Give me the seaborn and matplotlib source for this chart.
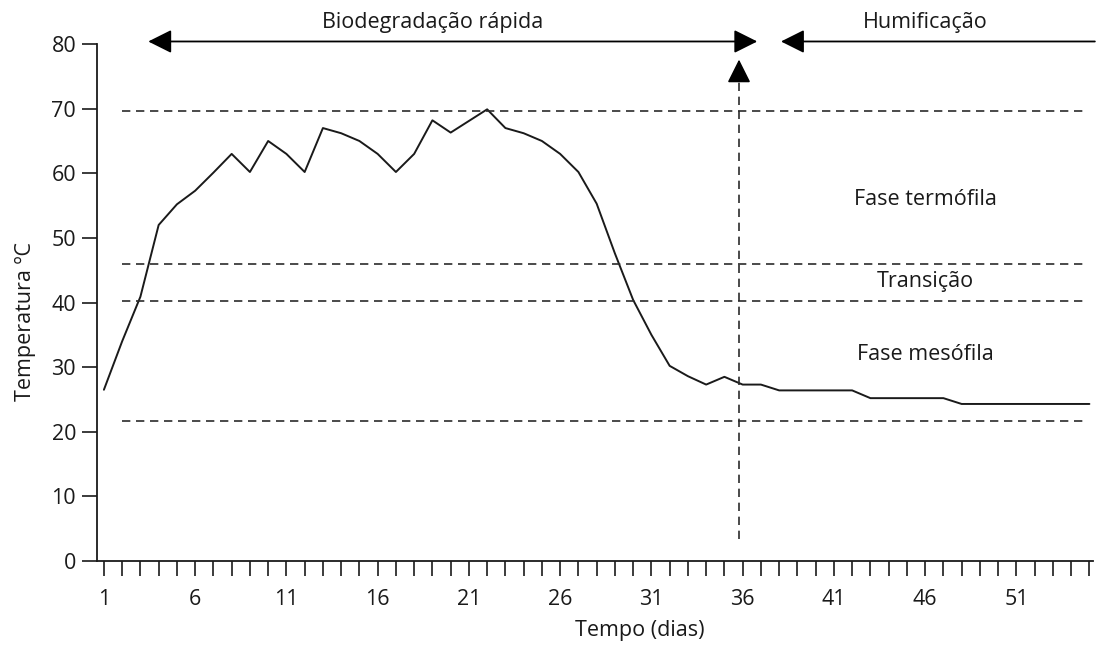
import matplotlib
matplotlib.use("Agg")
import matplotlib.pyplot as plt
import seaborn as sns
import pandas as pd
import numpy as np

# ---- data ----
days = list(range(1, 56))
temps = [26.5, 34.0, 40.9, 52.0, 55.2, 57.3, 60.1, 63.0, 60.2, 65.0,
         63.0, 60.2, 67.0, 66.2, 65.0, 63.0, 60.2, 63.0, 68.2, 66.3,
         68.1, 69.9, 67.0, 66.2, 65.0, 63.0, 60.2, 55.3, 47.6, 40.4,
         35.0, 30.2, 28.6, 27.3, 28.5, 27.3, 27.3, 26.4, 26.4, 26.4,
         26.4, 26.4, 25.2, 25.2, 25.2, 25.2, 25.2, 24.3, 24.3, 24.3,
         24.3, 24.3, 24.3, 24.3, 24.3]
phase_lines = [69.6, 45.9, 40.3, 21.6]
phase_labels = ["Fase termófila", "Transição", "Fase mesófila"]
phase_label_y = [56.0, 43.3, 32.0]
xtick_labels = [1, 6, 11, 16, 21, 26, 31, 36, 41, 46, 51]
yticks = [0, 10, 20, 30, 40, 50, 60, 70, 80]
stage_labels = ["Biodegradação rápida", "Humificação"]

df = pd.DataFrame({"Tempo": days[:len(temps)], "Temperatura": temps})

sns.set_style("ticks")
plt.rcParams["font.family"] = ["Open Sans", "DejaVu Sans"]

FS = 15.5
fig = plt.figure(figsize=(10.97, 6.48), dpi=100)
ax = fig.add_axes([0.0884, 0.1343, 0.9080, 0.7977])

ink = "#1a1a1a"
sns.lineplot(data=df, x="Tempo", y="Temperatura", ax=ax, color=ink,
             linewidth=1.4)

ax.set_xlim(0.62, 55.2)
ax.set_ylim(0, 80)

# dashed phase boundaries
dash = (0, (5.0, 3.4))
for yv in phase_lines:
    ax.plot([2.0, 54.8], [yv, yv], color="#2b2b2b", linewidth=1.2,
            linestyle=dash)

for lab, yv in zip(phase_labels, phase_label_y):
    ax.text(46.0, yv, lab, ha="center", va="center", fontsize=FS, color=ink)

# vertical dashed arrow
xv = 35.8
ax.plot([xv, xv], [3.4, 76.0], color="#2b2b2b", linewidth=1.2, linestyle=dash,
        clip_on=False)
ax.annotate("", xy=(xv, 77.6), xytext=(xv, 75.0),
            arrowprops=dict(arrowstyle="-|>,head_length=0.8,head_width=0.4",
                            color="black", lw=1.2, mutation_scale=18,
                            shrinkA=0, shrinkB=0),
            annotation_clip=False)

# top stage arrows
ya = 80.4
ax.annotate("", xy=(3.43, ya), xytext=(36.8, ya),
            arrowprops=dict(arrowstyle="<|-|>,head_length=0.8,head_width=0.4",
                            color="black", lw=1.3, mutation_scale=18,
                            shrinkA=0, shrinkB=0),
            annotation_clip=False)
ax.annotate("", xy=(38.1, ya), xytext=(55.3, ya),
            arrowprops=dict(arrowstyle="-|>,head_length=0.8,head_width=0.4",
                            color="black", lw=1.3, mutation_scale=18,
                            shrinkA=0, shrinkB=0),
            annotation_clip=False)
ax.text(19.0, 83.4, stage_labels[0], ha="center", va="center", fontsize=FS,
        color=ink, clip_on=False)
ax.text(46.0, 83.4, stage_labels[1], ha="center", va="center", fontsize=FS,
        color=ink, clip_on=False)

# ticks
ax.set_xticks(days)
ax.set_xticklabels([str(d) if d in xtick_labels else "" for d in days])
ax.set_yticks(yticks)
ax.tick_params(axis="both", direction="out", length=11, width=1.2,
               colors=ink, labelsize=FS, pad=4)
ax.tick_params(axis="x", pad=9)

sns.despine(ax=ax)
for s in ["left", "bottom"]:
    ax.spines[s].set_linewidth(1.3)
    ax.spines[s].set_color(ink)

ax.set_xlabel("Tempo (dias)", fontsize=FS, color=ink)
ax.xaxis.set_label_coords(0.545, -0.115)
ax.set_ylabel("Temperatura ºC", fontsize=FS, color=ink)
ax.yaxis.set_label_coords(-0.061, 0.464)

fig.savefig("out.png", dpi=100)
